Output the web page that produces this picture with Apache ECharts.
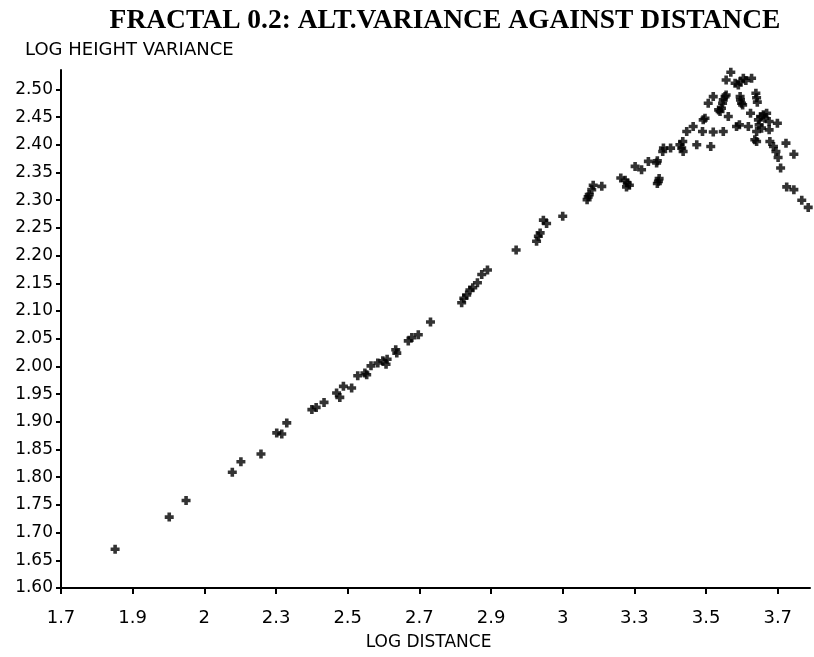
<!DOCTYPE html>
<html>
<head>
<meta charset="utf-8">
<script src="https://cdn.jsdelivr.net/npm/echarts@6/dist/echarts.min.js"></script>
<style>
html,body{margin:0;padding:0;background:#fff;}
#chart{width:814px;height:657px;}
</style>
</head>
<body>
<div id="chart"></div>
<script>
// ---- data ----
const logDistance = [
  1.851,2.002,2.049,2.178,2.202,2.258,2.302,2.316,2.330,2.400,
  2.412,2.434,2.469,2.478,2.488,2.511,2.528,2.548,2.553,2.565,
  2.584,2.598,2.607,2.610,2.634,2.637,2.669,2.679,2.697,2.731,
  2.818,2.824,2.832,2.841,2.849,2.862,2.874,2.890,2.970,3.027,
  3.032,3.037,3.046,3.055,3.100,3.168,3.171,3.174,3.181,3.185,
  3.209,3.262,3.274,3.280,3.286,3.278,3.302,3.320,3.339,3.362,
  3.364,3.364,3.367,3.369,3.379,3.381,3.401,3.427,3.432,3.436,
  3.435,3.446,3.464,3.474,3.513,3.490,3.492,3.497,3.520,3.548,
  3.506,3.520,3.543,3.546,3.548,3.553,3.556,3.539,3.562,3.556,
  3.569,3.581,3.590,3.595,3.604,3.611,3.627,3.585,3.593,3.618,
  3.595,3.596,3.599,3.602,3.624,3.639,3.641,3.643,3.646,3.648,
  3.652,3.660,3.664,3.669,3.655,3.641,3.676,3.676,3.699,3.636,
  3.641,3.678,3.688,3.695,3.723,3.701,3.708,3.745,3.725,3.745,
  3.767,3.785,3.535
];
const logHeightVariance = [
  1.670,1.728,1.758,1.809,1.828,1.842,1.880,1.878,1.898,1.922,
  1.926,1.935,1.952,1.944,1.964,1.961,1.983,1.988,1.985,2.001,
  2.006,2.010,2.004,2.013,2.030,2.024,2.046,2.052,2.057,2.080,
  2.115,2.123,2.129,2.138,2.142,2.151,2.166,2.174,2.210,2.226,
  2.235,2.241,2.264,2.258,2.271,2.301,2.306,2.310,2.319,2.327,
  2.325,2.340,2.336,2.331,2.327,2.324,2.361,2.355,2.370,2.367,
  2.371,2.330,2.334,2.339,2.388,2.394,2.394,2.400,2.394,2.388,
  2.406,2.424,2.433,2.400,2.397,2.424,2.445,2.448,2.423,2.424,
  2.475,2.487,2.466,2.475,2.481,2.487,2.490,2.460,2.451,2.517,
  2.531,2.511,2.508,2.514,2.520,2.516,2.520,2.433,2.436,2.433,
  2.487,2.481,2.475,2.472,2.457,2.493,2.485,2.477,2.445,2.436,
  2.451,2.454,2.448,2.457,2.430,2.424,2.442,2.427,2.439,2.409,
  2.406,2.406,2.397,2.388,2.403,2.377,2.358,2.383,2.324,2.319,
  2.300,2.287,2.463
];
const xTickValues = [1.7,1.9,2.1,2.3,2.5,2.7,2.9,3.1,3.3,3.5,3.7];
const xTickLabels = ['1.7','1.9','2','2.3','2.5','2.7','2.9','3','3.3','3.5','3.7'];
const yTickValues = [1.60,1.65,1.70,1.75,1.80,1.85,1.90,1.95,2.00,2.05,2.10,2.15,2.20,2.25,2.30,2.35,2.40,2.45,2.50];
const yTickLabels = ['1.60','1.65','1.70','1.75','1.80','1.85','1.90','1.95','2.00','2.05','2.10','2.15','2.20','2.25','2.30','2.35','2.40','2.45','2.50'];

const points = logDistance.map((x, i) => [x, logHeightVariance[i]]);

function labelFor(values, labels, v) {
  for (let i = 0; i < values.length; i++) {
    if (Math.abs(values[i] - v) < 1e-6) return labels[i];
  }
  return '';
}

const chart = echarts.init(document.getElementById('chart'), null, {renderer: 'canvas'});
const sans = 'DejaVu Sans';
chart.setOption({
  backgroundColor: '#ffffff',
  animation: false,
  title: [
    {
      text: 'FRACTAL 0.2: ALT.VARIANCE AGAINST DISTANCE',
      left: 440, top: 2, textAlign: 'center',
      textStyle: {fontFamily: 'Liberation Serif', fontWeight: 'bold', fontSize: 27.5, color: '#000'}
    },
    {
      text: 'LOG HEIGHT VARIANCE',
      left: 20, top: 36,
      textStyle: {fontFamily: sans, fontWeight: 'normal', fontSize: 18, color: '#000'}
    }
  ],
  grid: {left: 61, right: 4, top: 70, bottom: 69, containLabel: false},
  xAxis: {
    type: 'value',
    min: 1.7, max: 3.79,
    name: 'LOG DISTANCE',
    nameLocation: 'middle',
    nameGap: 46,
    nameTextStyle: {fontFamily: sans, fontSize: 17, color: '#000', padding: [0, 14, 0, 0]},
    splitLine: {show: false},
    axisLine: {show: true, onZero: false, lineStyle: {color: '#000', width: 2}},
    axisTick: {show: true, customValues: xTickValues, length: 6, lineStyle: {color: '#000', width: 2}},
    axisLabel: {
      customValues: xTickValues,
      margin: 21,
      fontFamily: sans, fontSize: 18, color: '#000',
      formatter: v => labelFor(xTickValues, xTickLabels, v)
    }
  },
  yAxis: {
    type: 'value',
    min: 1.6, max: 2.535,
    splitLine: {show: false},
    axisLine: {show: true, onZero: false, lineStyle: {color: '#000', width: 2}},
    axisTick: {show: true, customValues: yTickValues, length: 5, lineStyle: {color: '#000', width: 2}},
    axisLabel: {
      customValues: yTickValues,
      margin: 8,
      fontFamily: sans, fontSize: 17, color: '#000',
      formatter: v => labelFor(yTickValues, yTickLabels, v)
    }
  },
  series: [{
    type: 'scatter',
    data: points,
    symbol: 'path://M3,0H7V3H10V7H7V10H3V7H0V3H3Z',
    symbolSize: 9,
    itemStyle: {color: '#000'}
  }]
});
</script>
</body>
</html>
